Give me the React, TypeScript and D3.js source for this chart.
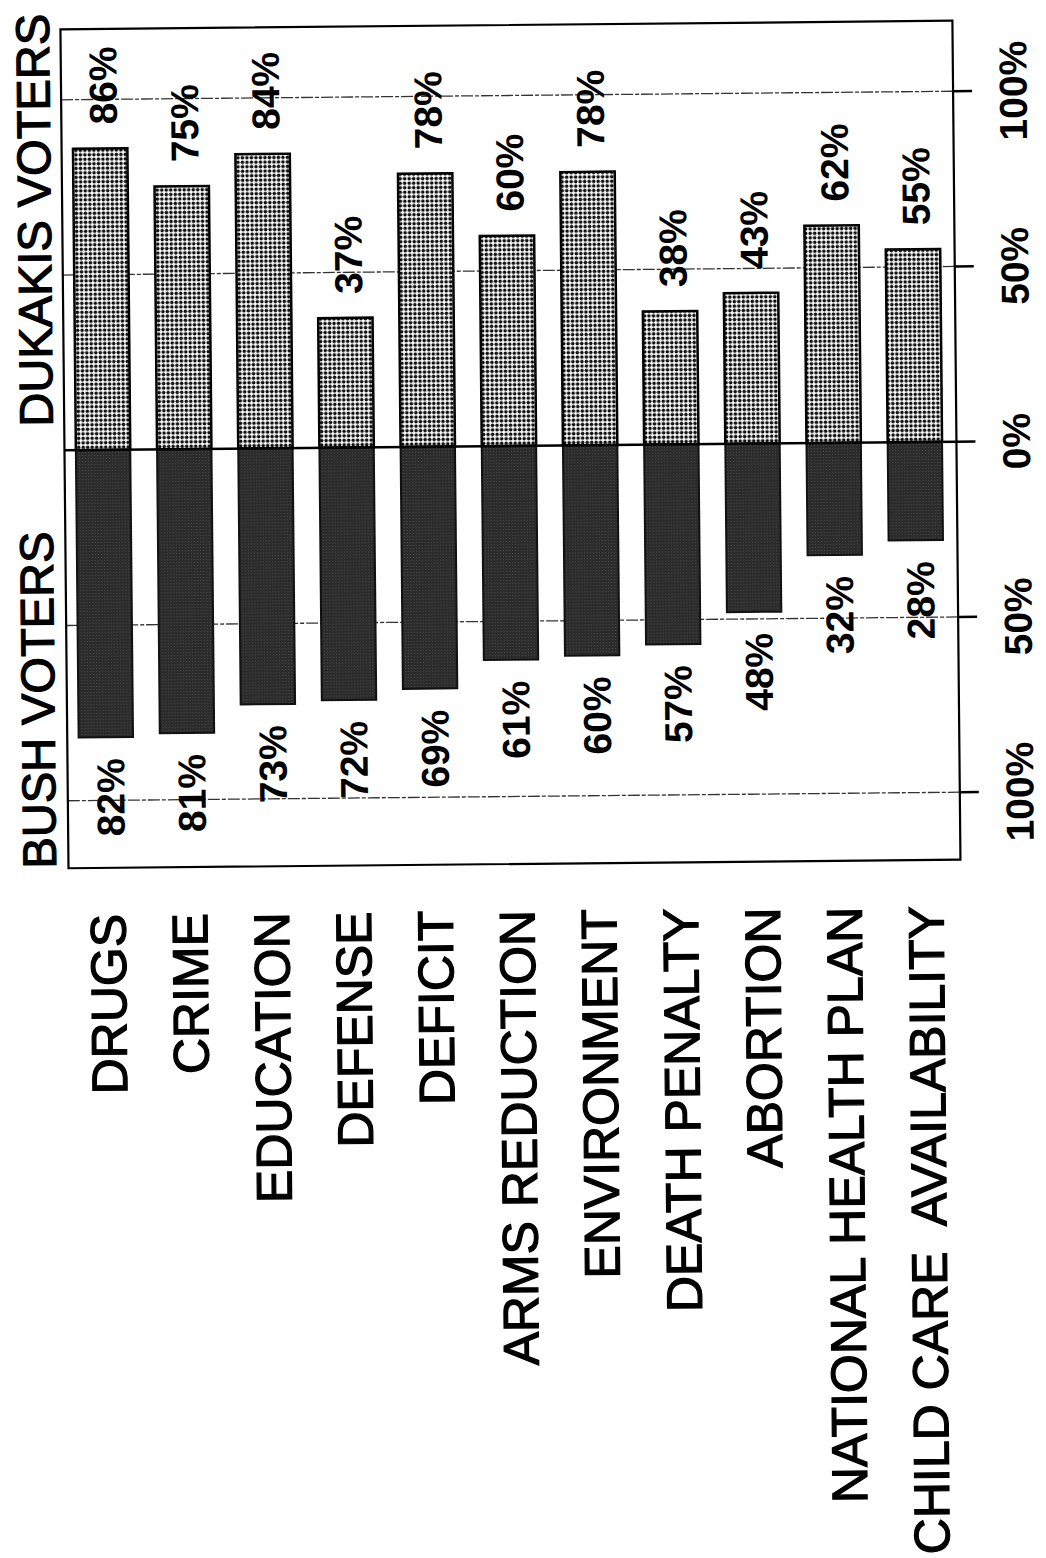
import React from 'react';
import * as d3 from 'd3';

// Issue categories, left to right along the band axis
const issues = [
  'DRUGS',
  'CRIME',
  'EDUCATION',
  'DEFENSE',
  'DEFICIT',
  'ARMS REDUCTION',
  'ENVIRONMENT',
  'DEATH PENALTY',
  'ABORTION',
  'NATIONAL HEALTH PLAN',
  'CHILD CARE  AVAILABILITY',
];

// Share of each candidate's voters naming the issue (percent)
const dukakisPct = [86, 75, 84, 37, 78, 60, 78, 38, 43, 62, 55];
const bushPct = [82, 81, 73, 72, 69, 61, 60, 57, 48, 32, 28];

// Value axis ticks: positive = Dukakis side, negative = Bush side
const tickValues = [100, 50, 0, -50, -100];
const gridValues = [100, 50, -50, -100];
const groupTitles = ['DUKAKIS VOTERS', 'BUSH VOTERS'];

const pct = (v: number) => `${Math.abs(v)}%`;

export default function App() {
  const W = 1046;
  const H = 1558;
  const frame = { left: 64.5, right: 956.5, top: 25, bottom: 864 };

  const x = d3
    .scaleBand<string>()
    .domain(issues)
    .range([62.5, 955.5])
    .paddingInner(0.33)
    .paddingOuter(0.165);
  const bw = x.bandwidth();
  const y = d3.scaleLinear().domain([-100, 100]).range([796.5, 95.5]);
  const labelX = d3.scalePoint<string>().domain(issues).range([103, 921]);

  const font = "'Liberation Sans', Arial, Helvetica, sans-serif";
  const heavy = { paintOrder: 'stroke' as const, stroke: '#000', strokeWidth: 1.2 };
  const numStyle = { fontWeight: 700, fontSize: 39 };

  return (
    <svg
      width={W}
      height={H}
      viewBox={`0 0 ${W} ${H}`}
      style={{ position: 'absolute', left: 0, top: 0, background: '#fff' }}
      fontFamily={font}
    >
      <defs>
        <pattern id="dotsLight" width={4.5} height={4.5} patternUnits="userSpaceOnUse">
          <rect width={4.5} height={4.5} fill="#fff" />
          <circle cx={2.25} cy={2.25} r={1.8} fill="#111" />
        </pattern>
        <pattern id="dotsDark" width={3} height={3} patternUnits="userSpaceOnUse">
          <rect width={3} height={3} fill="#2b2b2b" />
          <circle cx={1.5} cy={1.5} r={0.6} fill="#505050" />
        </pattern>
      </defs>

      <g transform="rotate(-0.55 510 450)">
        {/* gridlines */}
        {gridValues.map((v) => (
          <line
            key={`g${v}`}
            x1={frame.left}
            x2={frame.right}
            y1={y(v)}
            y2={y(v)}
            stroke="#333"
            strokeWidth={1.3}
            strokeDasharray="12 2 4 2"
          />
        ))}

        {/* Dukakis bars (upward) */}
        {issues.map((c, i) => (
          <rect
            key={`d${c}`}
            x={x(c)}
            y={y(dukakisPct[i])}
            width={bw}
            height={y(0) - y(dukakisPct[i])}
            fill="url(#dotsLight)"
            stroke="#000"
            strokeWidth={2.5}
          />
        ))}

        {/* Bush bars (downward) */}
        {issues.map((c, i) => (
          <rect
            key={`b${c}`}
            x={x(c)}
            y={y(0)}
            width={bw}
            height={y(-bushPct[i]) - y(0)}
            fill="url(#dotsDark)"
            stroke="#111"
            strokeWidth={2}
          />
        ))}

        {/* tick marks outside the right edge */}
        {tickValues.map((v) => (
          <line
            key={`t${v}`}
            x1={frame.right}
            x2={frame.right + 19}
            y1={y(v)}
            y2={y(v)}
            stroke="#000"
            strokeWidth={2.5}
          />
        ))}

        {/* zero line */}
        <line x1={frame.left} x2={frame.right} y1={y(0)} y2={y(0)} stroke="#000" strokeWidth={2.5} />

        {/* frame */}
        <rect
          x={frame.left}
          y={frame.top}
          width={frame.right - frame.left}
          height={frame.bottom - frame.top}
          fill="none"
          stroke="#000"
          strokeWidth={2.2}
        />

        {/* tick labels */}
        {tickValues.map((v) => (
          <text
            key={`tl${v}`}
            transform={`translate(1016,${y(v)}) rotate(-90)`}
            textAnchor="middle"
            dy="0.36em"
            {...numStyle}
          >
            {pct(v)}
          </text>
        ))}

        {/* Dukakis value labels */}
        {issues.map((c, i) => (
          <text
            key={`dl${c}`}
            transform={`translate(${(x(c) as number) + bw / 2 + 3},${y(dukakisPct[i]) - 24}) rotate(-90)`}
            textAnchor="start"
            dy="0.36em"
            {...numStyle}
          >
            {pct(dukakisPct[i])}
          </text>
        ))}

        {/* Bush value labels */}
        {issues.map((c, i) => (
          <text
            key={`bl${c}`}
            transform={`translate(${(x(c) as number) + bw / 2 + 4},${y(-bushPct[i]) + 21}) rotate(-90)`}
            textAnchor="end"
            dy="0.36em"
            {...numStyle}
          >
            {pct(bushPct[i])}
          </text>
        ))}

        {/* group titles */}
        <text
          transform={`translate(36,${y(0) - 24}) rotate(-90)`}
          textAnchor="start"
          dy="0.36em"
          fontSize={47}
          {...heavy}
        >
          {groupTitles[0]}
        </text>
        <text
          transform={`translate(35,${frame.bottom}) rotate(-90)`}
          textAnchor="start"
          dy="0.36em"
          fontSize={47}
          {...heavy}
        >
          {groupTitles[1]}
        </text>

        {/* issue labels */}
        {issues.map((c) => (
          <text
            key={`c${c}`}
            transform={`translate(${labelX(c)},910) rotate(-90)`}
            textAnchor="end"
            dy="0.36em"
            fontSize={50}
            style={{ whiteSpace: 'pre' }}
            {...heavy}
          >
            {c}
          </text>
        ))}
      </g>
    </svg>
  );
}
